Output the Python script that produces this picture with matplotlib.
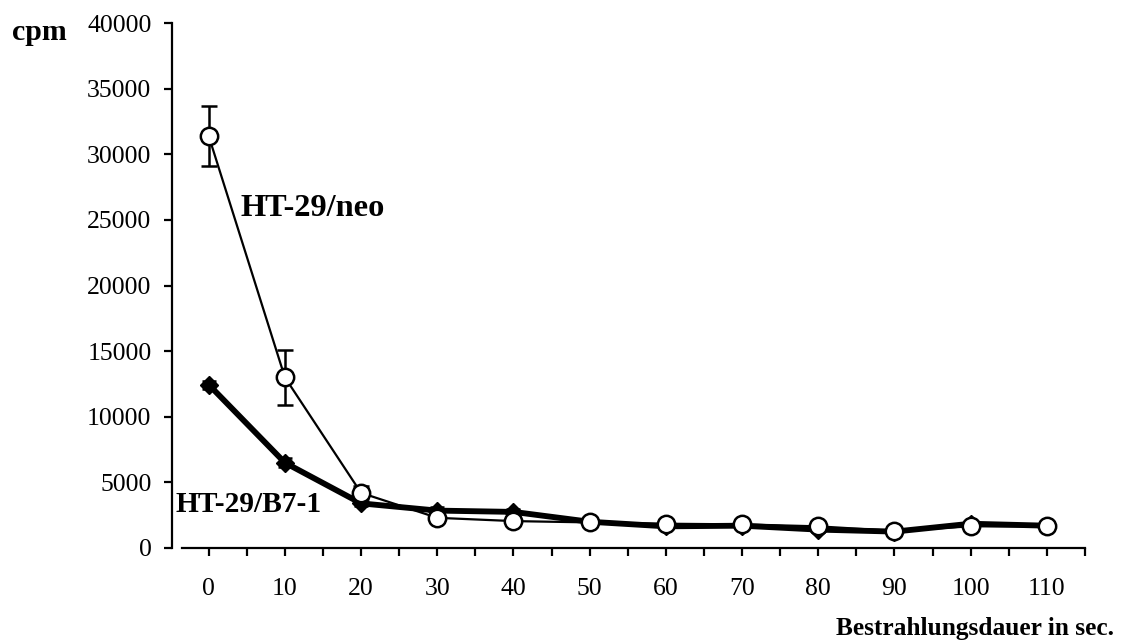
import matplotlib
matplotlib.use("Agg")
import matplotlib.pyplot as plt
from matplotlib.ticker import FixedLocator

plt.rcParams["font.family"] = ["Liberation Serif", "DejaVu Serif"]

# Irradiation time (s)
times = [0, 10, 20, 30, 40, 50, 60, 70, 80, 90, 100, 110]

# HT-29/neo: mean cpm and error
neo_cpm = [31400, 13000, 4200, 2300, 2050, 1950, 1850, 1800, 1650, 1300, 1650, 1650]
neo_err = [2300, 2100, 500, 150, 150, 150, 150, 150, 150, 150, 150, 150]

# HT-29/B7-1: mean cpm and error
b7_cpm = [12450, 6500, 3400, 2850, 2750, 2000, 1650, 1700, 1400, 1250, 1850, 1700]
b7_err = [300, 350, 200, 250, 250, 200, 200, 150, 200, 100, 200, 150]

y_ticks = [0, 5000, 10000, 15000, 20000, 25000, 30000, 35000, 40000]

fig = plt.figure(figsize=(11.21, 6.44), dpi=100)
ax = fig.add_axes([182 / 1121, 1 - 548 / 644, (1085 - 182) / 1121, (548 - 23) / 644])

ax.errorbar(times, b7_cpm, yerr=b7_err, color="black", lw=4.2, marker="D",
            markersize=9, markerfacecolor="black", markeredgecolor="black",
            elinewidth=1.8, capsize=5, capthick=1.8, zorder=2)
ax.errorbar(times, neo_cpm, yerr=neo_err, color="black", lw=1.6, marker="o",
            markersize=12.5, markerfacecolor="white", markeredgecolor="black",
            markeredgewidth=1.8, elinewidth=1.8, capsize=6, capthick=1.8, zorder=3)

ax.set_xlim(-3.5, 115)
ax.set_ylim(0, 40000)

for side in ("top", "right"):
    ax.spines[side].set_visible(False)
ax.spines["left"].set_position(("outward", 7.5))
ax.spines["left"].set_linewidth(1.6)
ax.spines["bottom"].set_linewidth(1.6)

ax.xaxis.set_major_locator(FixedLocator(times))
ax.xaxis.set_minor_locator(FixedLocator([t + 5 for t in times]))
ax.set_xticklabels([str(t) for t in times])
ax.set_yticks(y_ticks)
ax.set_yticklabels([str(v) for v in y_ticks])

ax.tick_params(axis="x", which="both", direction="out", length=5.5, width=1.6,
               labelsize=18.5, pad=16)
ax.tick_params(axis="y", which="major", direction="out", length=5.5, width=1.6,
               labelsize=18.5, pad=9)

ax.text(4.2, 25900, "HT-29/neo", fontsize=23.3, fontweight="bold", va="center", ha="left")
ax.text(-4.4, 3300, "HT-29/B7-1", fontsize=21.2, fontweight="bold", va="center", ha="left")

fig.text(12 / 1121, 1 - 32 / 644, "cpm", fontsize=21.5, fontweight="bold", va="center", ha="left")
fig.text(1114 / 1121, 1 - 628 / 644, "Bestrahlungsdauer in sec.", fontsize=18.3,
         fontweight="bold", va="center", ha="right")

fig.savefig("out.png", dpi=100)
